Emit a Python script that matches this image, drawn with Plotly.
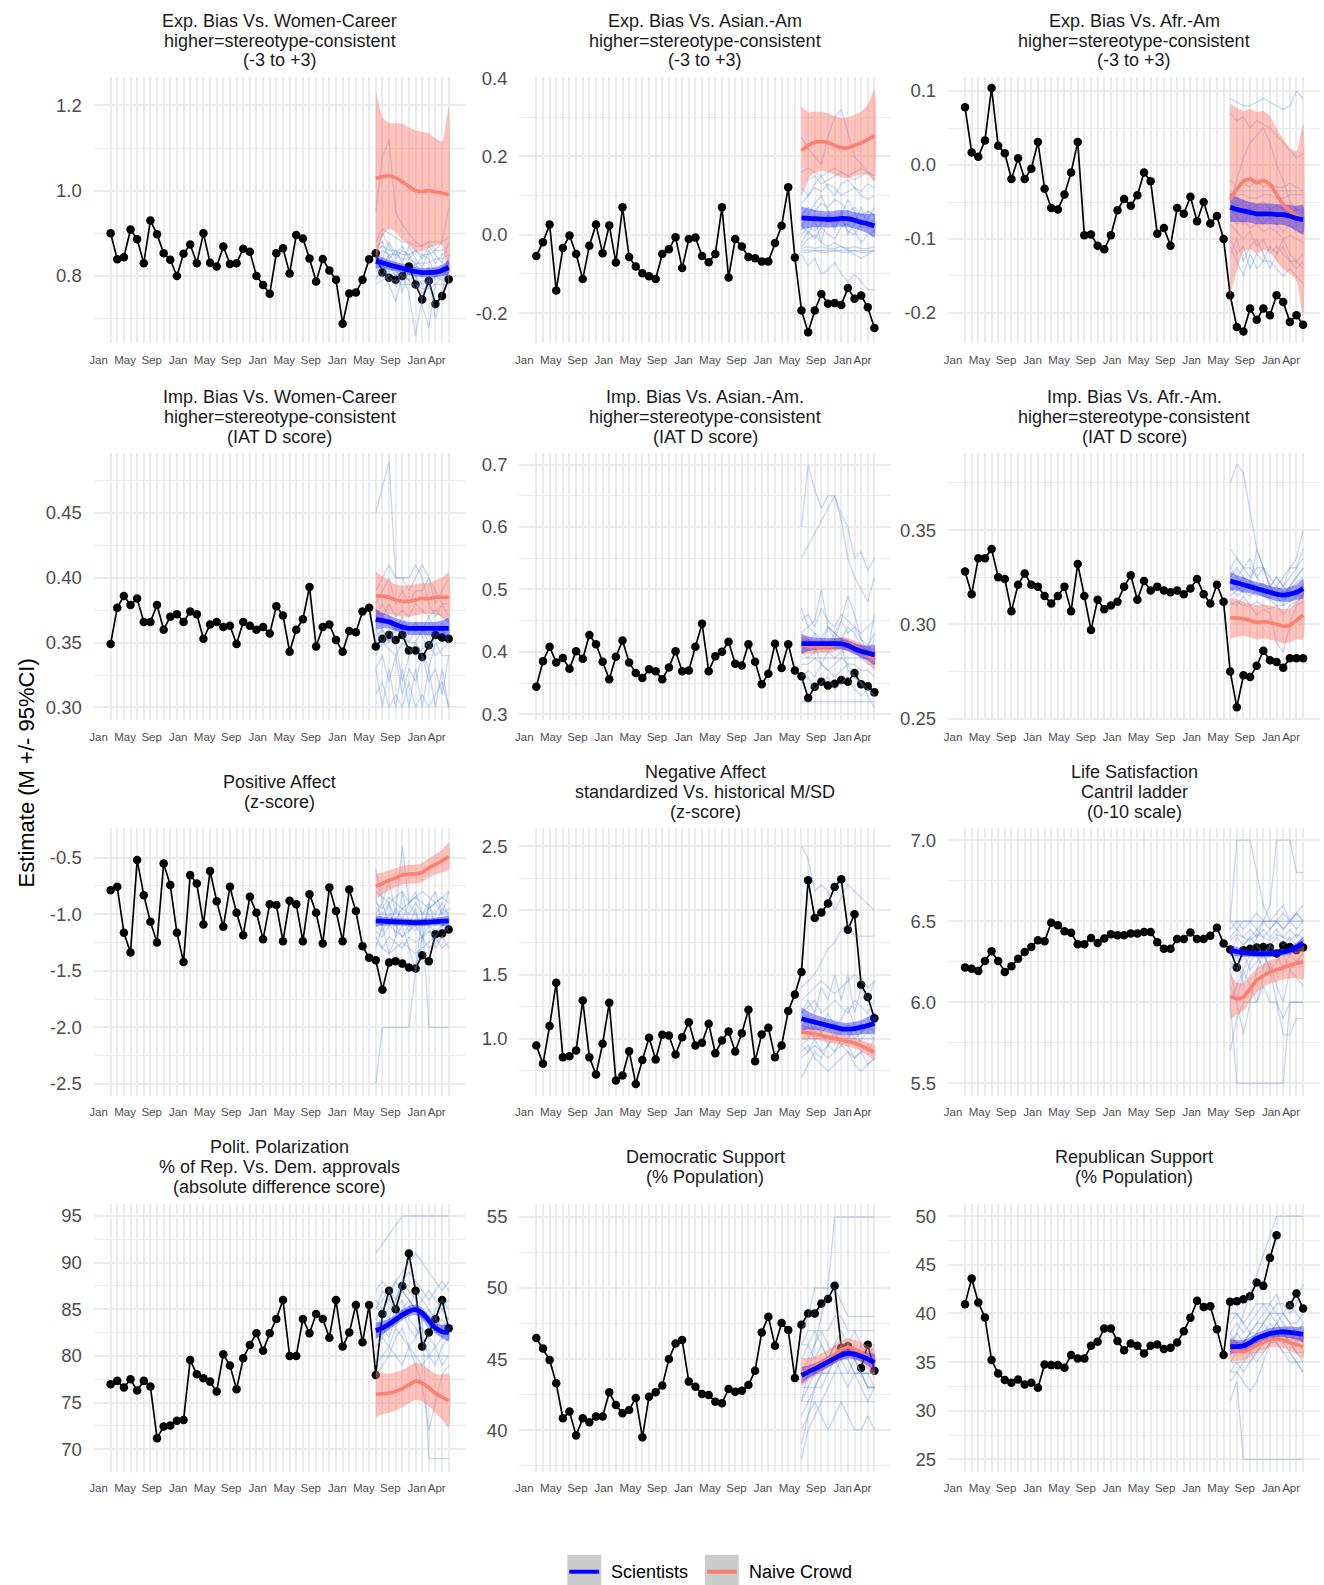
import plotly.graph_objects as go

W, H = 1324, 1585
FONT = "Liberation Sans, Arial, Helvetica, sans-serif"

# ---------------- time axis: monthly, Jan 2017 ... Apr 2021 ----------------
months = list(range(52))
forecast_months = list(range(40, 52))          # May 2020 ... Apr 2021
x_label_pos = [0, 4, 8, 12, 16, 20, 24, 28, 32, 36, 40, 44, 48, 51]
x_label_text = ["Jan", "May", "Sep", "Jan", "May", "Sep", "Jan", "May", "Sep",
                "Jan", "May", "Sep", "Jan", "Apr"]

# ---------------- 1. Exp. Bias Vs. Women-Career ----------------
obs_1 = [0.90, 0.839, 0.844, 0.909, 0.886, 0.83, 0.93, 0.898, 0.853, 0.838, 0.80, 0.852, 0.874,
         0.83, 0.90, 0.831, 0.822, 0.869, 0.828, 0.83, 0.864, 0.857, 0.80, 0.779, 0.758, 0.853,
         0.865, 0.806, 0.896, 0.888, 0.841, 0.787, 0.84, 0.813, 0.791, 0.688, 0.759, 0.761, 0.791,
         0.839, 0.853, 0.808, 0.796, 0.791, 0.80, 0.822, 0.78, 0.745, 0.789, 0.734, 0.753, 0.792]
sci_1 = [0.834, 0.831, 0.826, 0.822, 0.818, 0.814, 0.81, 0.808, 0.808, 0.809, 0.813, 0.82]
sci_ci_1 = [0.016, 0.013, 0.012, 0.011, 0.011, 0.011, 0.011, 0.011, 0.011, 0.012, 0.013, 0.016]
crowd_1 = [1.029, 1.033, 1.035, 1.03, 1.021, 1.01, 1.0, 0.998, 1.0, 0.997, 0.994, 0.99]
crowd_ci_1 = [0.206, 0.14, 0.124, 0.128, 0.136, 0.138, 0.142, 0.14, 0.134, 0.126, 0.121, 0.207]
ind_1 = [
    [0.84, 0.86, 0.85, 0.85, 0.84, 0.84, 0.83, 0.83, 0.83, 0.84, 0.84, 0.85],
    [0.80, 0.80, 0.79, 0.79, 0.78, 0.78, 0.78, 0.77, 0.77, 0.78, 0.78, 0.78],
    [0.88, 0.91, 0.90, 0.89, 0.88, 0.88, 0.87, 0.87, 0.88, 0.88, 0.88, 0.89],
    [0.82, 0.83, 0.78, 0.74, 0.80, 0.76, 0.66, 0.75, 0.80, 0.70, 0.76, 0.85],
    [0.85, 0.90, 0.87, 0.84, 0.86, 0.85, 0.82, 0.85, 0.84, 0.80, 0.82, 0.83],
    [0.78, 0.79, 0.80, 0.81, 0.80, 0.79, 0.80, 0.78, 0.79, 0.80, 0.81, 0.80],
    [0.95, 1.08, 1.12, 0.95, 0.92, 0.90, 0.88, 0.87, 0.88, 0.86, 0.88, 0.96],
    [0.83, 0.82, 0.85, 0.83, 0.76, 0.82, 0.80, 0.73, 0.68, 0.78, 0.80, 0.82],
    [0.86, 0.87, 0.86, 0.86, 0.85, 0.85, 0.86, 0.85, 0.85, 0.86, 0.86, 0.87],
    [0.81, 0.82, 0.81, 0.82, 0.82, 0.81, 0.81, 0.80, 0.81, 0.81, 0.82, 0.82],
    [0.87, 0.88, 0.84, 0.86, 0.83, 0.87, 0.84, 0.82, 0.86, 0.83, 0.85, 0.86],
    [0.79, 0.83, 0.80, 0.78, 0.81, 0.79, 0.77, 0.79, 0.78, 0.80, 0.79, 0.81],
    [0.84, 0.84, 0.88, 0.85, 0.87, 0.84, 0.86, 0.84, 0.87, 0.85, 0.83, 0.88],
    [0.82, 0.80, 0.83, 0.80, 0.82, 0.80, 0.83, 0.80, 0.82, 0.79, 0.81, 0.84],
]

# ---------------- 2. Exp. Bias Vs. Asian.-Am ----------------
obs_2 = [-0.054, -0.019, 0.026, -0.142, -0.034, -0.002, -0.049, -0.113, -0.028, 0.026, -0.047,
         0.024, -0.071, 0.07, -0.057, -0.081, -0.098, -0.106, -0.113, -0.049, -0.037, -0.006,
         -0.085, -0.011, -0.007, -0.054, -0.07, -0.049, 0.07, -0.109, -0.011, -0.03, -0.057,
         -0.06, -0.068, -0.068, -0.021, 0.023, 0.121, -0.058, -0.193, -0.249, -0.193, -0.151,
         -0.176, -0.174, -0.179, -0.136, -0.163, -0.155, -0.185, -0.238]
sci_2 = [0.043, 0.042, 0.041, 0.04, 0.039, 0.04, 0.042, 0.041, 0.037, 0.032, 0.028, 0.023]
sci_ci_2 = [0.03, 0.025, 0.022, 0.021, 0.021, 0.021, 0.021, 0.021, 0.021, 0.022, 0.025, 0.03]
crowd_2 = [0.215, 0.228, 0.236, 0.238, 0.235, 0.228, 0.222, 0.222, 0.228, 0.234, 0.243, 0.253]
crowd_ci_2 = [0.113, 0.085, 0.078, 0.076, 0.075, 0.075, 0.076, 0.077, 0.078, 0.08, 0.09, 0.117]
ind_2 = [
    [0.10, 0.14, 0.15, 0.13, 0.14, 0.15, 0.16, 0.15, 0.14, 0.15, 0.16, 0.14],
    [-0.04, -0.04, -0.04, -0.04, -0.04, -0.04, -0.04, -0.04, -0.04, -0.04, -0.04, -0.04],
    [0.02, 0.05, 0.08, 0.10, 0.06, 0.03, 0.05, 0.09, 0.06, 0.02, 0.04, 0.07],
    [-0.03, -0.01, 0.0, -0.02, -0.03, -0.02, -0.03, -0.04, -0.05, -0.06, -0.05, -0.04],
    [0.25, 0.22, 0.20, 0.18, 0.25, 0.30, 0.32, 0.26, 0.20, 0.18, 0.16, 0.15],
    [-0.05, -0.08, -0.06, -0.10, -0.09, -0.07, -0.10, -0.12, -0.10, -0.12, -0.14, -0.14],
    [0.08, 0.10, 0.12, 0.11, 0.13, 0.12, 0.10, 0.11, 0.12, 0.10, 0.09, 0.10],
    [0.0, 0.02, 0.01, 0.03, 0.05, 0.02, 0.04, 0.01, 0.00, 0.03, 0.06, 0.05],
    [-0.035, -0.03, -0.035, -0.03, -0.035, -0.035, -0.03, -0.035, -0.03, -0.035, -0.035, -0.03],
    [0.05, 0.07, 0.06, 0.08, 0.07, 0.09, 0.08, 0.06, 0.07, 0.05, 0.06, 0.05],
    [0.12, 0.10, 0.13, 0.15, 0.12, 0.10, 0.13, 0.14, 0.12, 0.11, 0.13, 0.12],
    [-0.02, 0.01, -0.01, 0.02, 0.0, -0.01, 0.02, 0.03, 0.01, -0.02, 0.0, 0.01],
    [0.16, 0.17, 0.16, 0.15, 0.16, 0.17, 0.16, 0.15, 0.16, 0.17, 0.16, 0.15],
    [-0.045, -0.045, -0.04, -0.045, -0.045, -0.04, -0.045, -0.045, -0.04, -0.045, -0.045, -0.04],
    [0.03, 0.0, 0.04, -0.02, 0.05, 0.01, 0.06, 0.0, 0.03, 0.07, 0.02, 0.04],
]

# ---------------- 3. Exp. Bias Vs. Afr.-Am ----------------
obs_3 = [0.078, 0.017, 0.011, 0.033, 0.104, 0.026, 0.016, -0.019, 0.009, -0.019, -0.005, 0.031,
         -0.032, -0.058, -0.06, -0.04, -0.01, 0.031, -0.095, -0.094, -0.109, -0.114, -0.095,
         -0.061, -0.046, -0.055, -0.041, -0.01, -0.022, -0.093, -0.085, -0.109, -0.058, -0.066,
         -0.043, -0.076, -0.05, -0.079, -0.069, -0.1, -0.176, -0.219, -0.225, -0.194, -0.209,
         -0.194, -0.203, -0.176, -0.185, -0.212, -0.203, -0.216]
sci_3 = [-0.057, -0.06, -0.062, -0.064, -0.066, -0.066, -0.066, -0.067, -0.067, -0.069, -0.072, -0.074]
sci_ci_3 = [0.02, 0.017, 0.015, 0.014, 0.014, 0.014, 0.014, 0.014, 0.014, 0.015, 0.017, 0.02]
crowd_3 = [-0.047, -0.033, -0.022, -0.019, -0.024, -0.021, -0.026, -0.04, -0.053, -0.062, -0.069, -0.075]
crowd_ci_3 = [0.13, 0.11, 0.095, 0.095, 0.096, 0.094, 0.092, 0.09, 0.088, 0.085, 0.088, 0.13]
ind_3 = [
    [0.09, 0.085, 0.08, 0.08, 0.085, 0.09, 0.085, 0.08, 0.075, 0.08, 0.10, 0.09],
    [-0.11, -0.13, -0.15, -0.12, -0.14, -0.13, -0.13, -0.14, -0.15, -0.14, -0.15, -0.16],
    [-0.035, -0.035, -0.035, -0.035, -0.035, -0.035, -0.035, -0.035, -0.035, -0.035, -0.035, -0.035],
    [-0.04, -0.04, -0.04, -0.045, -0.045, -0.04, -0.04, -0.045, -0.045, -0.04, -0.04, -0.04],
    [-0.05, -0.02, 0.01, 0.03, 0.04, 0.05, 0.03, 0.0, -0.02, -0.05, -0.06, -0.06],
    [-0.08, -0.09, -0.10, -0.09, -0.11, -0.10, -0.12, -0.11, -0.12, -0.13, -0.13, -0.14],
    [-0.10, -0.12, -0.11, -0.14, -0.12, -0.13, -0.11, -0.12, -0.10, -0.12, -0.13, -0.12],
    [-0.06, -0.07, -0.08, -0.06, -0.07, -0.08, -0.07, -0.08, -0.09, -0.08, -0.09, -0.09],
    [-0.02, -0.03, -0.025, -0.03, -0.02, -0.03, -0.025, -0.03, -0.03, -0.025, -0.03, -0.035],
    [-0.07, -0.08, -0.075, -0.085, -0.08, -0.09, -0.085, -0.09, -0.1, -0.095, -0.1, -0.105],
    [-0.12, -0.1, -0.13, -0.11, -0.1, -0.12, -0.14, -0.12, -0.11, -0.13, -0.14, -0.13],
    [-0.05, -0.055, -0.05, -0.06, -0.055, -0.05, -0.06, -0.055, -0.06, -0.065, -0.06, -0.065],
    [0.07, 0.06, 0.065, 0.05, 0.06, 0.055, 0.05, 0.04, 0.03, 0.02, 0.01, 0.015],
]

# ---------------- 4. Imp. Bias Vs. Women-Career ----------------
obs_4 = [0.349, 0.377, 0.386, 0.379, 0.384, 0.366, 0.366, 0.379, 0.36, 0.37, 0.372, 0.366, 0.374,
         0.372, 0.353, 0.364, 0.366, 0.362, 0.363, 0.349, 0.366, 0.363, 0.36, 0.362, 0.357, 0.378,
         0.371, 0.343, 0.36, 0.368, 0.393, 0.347, 0.362, 0.364, 0.352, 0.343, 0.359, 0.358, 0.374,
         0.377, 0.347, 0.353, 0.356, 0.352, 0.356, 0.344, 0.344, 0.339, 0.348, 0.356, 0.354, 0.353]
sci_4 = [0.368, 0.367, 0.366, 0.364, 0.362, 0.361, 0.361, 0.361, 0.361, 0.361, 0.361, 0.361]
sci_ci_4 = [0.008, 0.006, 0.005, 0.005, 0.005, 0.005, 0.005, 0.005, 0.005, 0.005, 0.006, 0.008]
crowd_4 = [0.386, 0.386, 0.385, 0.383, 0.382, 0.382, 0.383, 0.384, 0.384, 0.385, 0.385, 0.385]
crowd_ci_4 = [0.019, 0.015, 0.013, 0.012, 0.012, 0.012, 0.012, 0.012, 0.012, 0.013, 0.015, 0.019]
ind_4 = [
    [0.45, 0.47, 0.49, 0.40, 0.40, 0.40, 0.41, 0.40, 0.38, 0.37, 0.38, 0.38],
    [0.37, 0.38, 0.37, 0.36, 0.37, 0.36, 0.36, 0.36, 0.37, 0.36, 0.36, 0.36],
    [0.33, 0.30, 0.33, 0.30, 0.33, 0.30, 0.33, 0.30, 0.33, 0.30, 0.33, 0.30],
    [0.36, 0.35, 0.36, 0.35, 0.32, 0.34, 0.35, 0.34, 0.33, 0.35, 0.34, 0.34],
    [0.38, 0.39, 0.40, 0.38, 0.39, 0.38, 0.39, 0.39, 0.40, 0.38, 0.39, 0.40],
    [0.35, 0.36, 0.35, 0.36, 0.36, 0.35, 0.35, 0.36, 0.35, 0.36, 0.36, 0.35],
    [0.31, 0.32, 0.30, 0.31, 0.30, 0.32, 0.30, 0.31, 0.30, 0.31, 0.32, 0.30],
    [0.39, 0.40, 0.41, 0.40, 0.40, 0.39, 0.40, 0.41, 0.40, 0.39, 0.38, 0.37],
    [0.365, 0.37, 0.365, 0.36, 0.365, 0.36, 0.365, 0.36, 0.355, 0.36, 0.365, 0.36],
    [0.34, 0.35, 0.345, 0.34, 0.35, 0.345, 0.34, 0.345, 0.35, 0.34, 0.345, 0.35],
    [0.375, 0.37, 0.38, 0.37, 0.375, 0.37, 0.38, 0.375, 0.37, 0.375, 0.37, 0.365],
    [0.355, 0.36, 0.35, 0.365, 0.355, 0.35, 0.36, 0.355, 0.345, 0.355, 0.36, 0.355],
    [0.33, 0.34, 0.32, 0.34, 0.31, 0.33, 0.32, 0.34, 0.32, 0.33, 0.31, 0.34],
]

# ---------------- 5. Imp. Bias Vs. Asian.-Am. ----------------
obs_5 = [0.344, 0.385, 0.408, 0.383, 0.39, 0.373, 0.401, 0.389, 0.427, 0.412, 0.384, 0.356, 0.392,
         0.418, 0.383, 0.366, 0.358, 0.372, 0.369, 0.356, 0.375, 0.401, 0.369, 0.37, 0.408, 0.445,
         0.369, 0.393, 0.4, 0.416, 0.381, 0.378, 0.412, 0.384, 0.348, 0.365, 0.413, 0.374, 0.412,
         0.37, 0.361, 0.326, 0.344, 0.352, 0.346, 0.349, 0.355, 0.352, 0.366, 0.348, 0.345, 0.335]
sci_5 = [0.413, 0.413, 0.413, 0.413, 0.413, 0.413, 0.413, 0.41, 0.405, 0.401, 0.398, 0.395]
sci_ci_5 = [0.016, 0.012, 0.01, 0.009, 0.009, 0.009, 0.009, 0.009, 0.009, 0.01, 0.012, 0.016]
crowd_5 = [0.411, 0.409, 0.408, 0.408, 0.408, 0.411, 0.414, 0.412, 0.408, 0.402, 0.395, 0.387]
crowd_ci_5 = [0.015, 0.012, 0.011, 0.01, 0.01, 0.01, 0.01, 0.01, 0.01, 0.011, 0.013, 0.017]
ind_5 = [
    [0.60, 0.70, 0.66, 0.63, 0.65, 0.65, 0.62, 0.60, 0.55, 0.56, 0.53, 0.55],
    [0.55, 0.57, 0.59, 0.61, 0.63, 0.65, 0.61, 0.55, 0.52, 0.50, 0.48, 0.52],
    [0.47, 0.44, 0.45, 0.50, 0.44, 0.43, 0.45, 0.49, 0.46, 0.42, 0.40, 0.46],
    [0.39, 0.39, 0.39, 0.39, 0.39, 0.39, 0.39, 0.39, 0.39, 0.39, 0.39, 0.39],
    [0.32, 0.32, 0.32, 0.32, 0.32, 0.32, 0.32, 0.32, 0.32, 0.32, 0.32, 0.32],
    [0.40, 0.42, 0.41, 0.38, 0.40, 0.42, 0.41, 0.37, 0.36, 0.35, 0.33, 0.31],
    [0.43, 0.44, 0.43, 0.42, 0.44, 0.43, 0.42, 0.44, 0.43, 0.41, 0.40, 0.42],
    [0.36, 0.37, 0.36, 0.38, 0.37, 0.36, 0.37, 0.38, 0.36, 0.35, 0.34, 0.33],
    [0.41, 0.42, 0.40, 0.42, 0.41, 0.43, 0.42, 0.41, 0.40, 0.41, 0.40, 0.39],
    [0.38, 0.38, 0.39, 0.38, 0.37, 0.38, 0.39, 0.38, 0.38, 0.37, 0.37, 0.36],
    [0.45, 0.46, 0.44, 0.47, 0.45, 0.44, 0.46, 0.45, 0.44, 0.43, 0.44, 0.45],
    [0.40, 0.39, 0.40, 0.41, 0.40, 0.39, 0.40, 0.41, 0.40, 0.39, 0.38, 0.38],
    [0.35, 0.36, 0.34, 0.35, 0.36, 0.34, 0.35, 0.36, 0.34, 0.33, 0.34, 0.33],
    [0.42, 0.41, 0.43, 0.40, 0.44, 0.42, 0.45, 0.43, 0.44, 0.42, 0.41, 0.43],
]

# ---------------- 6. Imp. Bias Vs. Afr.-Am. ----------------
obs_6 = [0.328, 0.316, 0.335, 0.335, 0.34, 0.325, 0.324, 0.307, 0.321, 0.327, 0.321, 0.32, 0.315,
         0.311, 0.315, 0.32, 0.307, 0.332, 0.315, 0.297, 0.313, 0.308, 0.31, 0.312, 0.32, 0.326,
         0.313, 0.323, 0.318, 0.32, 0.318, 0.317, 0.318, 0.316, 0.319, 0.324, 0.316, 0.311, 0.321,
         0.312, 0.275, 0.256, 0.273, 0.272, 0.278, 0.286, 0.281, 0.28, 0.277, 0.282, 0.282, 0.282]
sci_6 = [0.323, 0.322, 0.321, 0.32, 0.319, 0.318, 0.317, 0.316, 0.3155, 0.316, 0.317, 0.319]
sci_ci_6 = [0.005, 0.004, 0.004, 0.0035, 0.0035, 0.0035, 0.0035, 0.0035, 0.0035, 0.004, 0.004, 0.005]
crowd_6 = [0.3035, 0.3033, 0.303, 0.302, 0.301, 0.3015, 0.301, 0.3, 0.299, 0.2995, 0.302, 0.305]
crowd_ci_6 = [0.011, 0.01, 0.009, 0.009, 0.009, 0.009, 0.009, 0.009, 0.009, 0.009, 0.01, 0.013]
ind_6 = [
    [0.375, 0.385, 0.38, 0.36, 0.34, 0.33, 0.32, 0.325, 0.32, 0.33, 0.335, 0.35],
    [0.33, 0.335, 0.33, 0.325, 0.33, 0.33, 0.325, 0.32, 0.325, 0.33, 0.33, 0.34],
    [0.32, 0.315, 0.318, 0.32, 0.317, 0.315, 0.313, 0.31, 0.31, 0.312, 0.315, 0.318],
    [0.325, 0.33, 0.325, 0.32, 0.34, 0.33, 0.32, 0.315, 0.31, 0.32, 0.325, 0.33],
    [0.31, 0.312, 0.31, 0.31, 0.305, 0.308, 0.306, 0.29, 0.285, 0.30, 0.31, 0.312],
    [0.322, 0.32, 0.325, 0.323, 0.32, 0.322, 0.318, 0.32, 0.317, 0.318, 0.322, 0.325],
    [0.315, 0.318, 0.32, 0.322, 0.318, 0.316, 0.314, 0.318, 0.32, 0.316, 0.318, 0.32],
    [0.33, 0.325, 0.33, 0.335, 0.325, 0.33, 0.32, 0.325, 0.32, 0.325, 0.33, 0.335],
    [0.318, 0.32, 0.317, 0.315, 0.318, 0.316, 0.314, 0.312, 0.313, 0.315, 0.318, 0.32],
    [0.34, 0.335, 0.33, 0.33, 0.325, 0.32, 0.32, 0.315, 0.315, 0.32, 0.325, 0.33],
    [0.312, 0.31, 0.315, 0.31, 0.312, 0.31, 0.308, 0.31, 0.305, 0.31, 0.312, 0.315],
]

# ---------------- 7. Positive Affect ----------------
obs_7 = [-0.788, -0.758, -1.165, -1.339, -0.522, -0.832, -1.068, -1.251, -0.552, -0.743, -1.165,
         -1.422, -0.655, -0.729, -1.091, -0.619, -0.885, -1.112, -0.758, -0.988, -1.186, -0.847,
         -0.988, -1.221, -0.912, -0.92, -1.239, -0.882, -0.912, -1.239, -0.823, -0.988, -1.26,
         -0.764, -0.971, -1.239, -0.782, -0.973, -1.283, -1.386, -1.407, -1.667, -1.428, -1.416,
         -1.437, -1.472, -1.481, -1.363, -1.416, -1.177, -1.171, -1.136]
sci_7 = [-1.06, -1.062, -1.065, -1.068, -1.07, -1.072, -1.074, -1.073, -1.07, -1.066, -1.062, -1.06]
sci_ci_7 = [0.05, 0.04, 0.035, 0.033, 0.032, 0.032, 0.032, 0.032, 0.033, 0.035, 0.04, 0.05]
crowd_7 = [-0.752, -0.73, -0.70, -0.68, -0.655, -0.646, -0.645, -0.63, -0.59, -0.56, -0.53, -0.49]
crowd_ci_7 = [0.11, 0.095, 0.088, 0.085, 0.083, 0.083, 0.083, 0.083, 0.085, 0.09, 0.1, 0.12]
ind_7 = [
    [-2.5, -2.0, -2.0, -2.0, -2.0, -2.0, -1.5, -1.0, -2.0, -2.0, -2.0, -2.0],
    [-0.6, -0.9, -0.7, -1.0, -0.4, -0.9, -0.8, -1.0, -0.9, -0.8, -1.0, -0.8],
    [-1.0, -1.0, -1.0, -1.0, -1.0, -1.0, -1.0, -1.0, -1.0, -1.0, -1.0, -1.0],
    [-1.2, -1.3, -1.2, -1.25, -1.3, -1.2, -1.25, -1.2, -1.3, -1.25, -1.2, -1.1],
    [-0.9, -0.95, -0.85, -0.9, -0.95, -0.9, -0.85, -0.9, -0.95, -0.9, -0.85, -0.9],
    [-1.1, -1.15, -1.05, -1.1, -1.2, -1.1, -1.15, -1.05, -1.1, -1.15, -1.1, -1.05],
    [-1.3, -1.1, -1.35, -1.2, -1.1, -1.3, -1.5, -1.2, -1.1, -1.3, -1.2, -1.3],
    [-0.85, -1.1, -0.9, -1.2, -0.8, -1.1, -0.95, -1.25, -0.9, -1.1, -0.95, -1.0],
    [-0.95, -1.0, -0.9, -1.05, -0.95, -1.0, -0.9, -1.0, -0.95, -0.9, -1.0, -0.95],
    [-1.15, -1.2, -1.1, -1.15, -1.2, -1.15, -1.1, -1.2, -1.15, -1.2, -1.1, -1.15],
    [-1.05, -1.1, -1.0, -1.1, -1.05, -1.15, -1.05, -1.1, -1.0, -1.05, -1.1, -1.05],
    [-0.8, -0.85, -0.9, -0.85, -0.8, -0.9, -0.85, -0.8, -0.85, -0.9, -0.85, -0.8],
    [-1.25, -1.3, -1.35, -1.3, -1.25, -1.3, -1.35, -1.3, -1.25, -1.2, -1.3, -1.25],
    [-1.0, -0.9, -1.1, -0.95, -1.05, -0.9, -1.0, -1.1, -0.95, -1.0, -0.9, -1.0],
]

# ---------------- 8. Negative Affect ----------------
obs_8 = [0.948, 0.805, 1.099, 1.437, 0.857, 0.865, 0.909, 1.299, 0.857, 0.722, 0.961, 1.281,
         0.675, 0.714, 0.904, 0.649, 0.836, 1.008, 0.839, 1.031, 1.026, 0.878, 1.013, 1.13, 0.948,
         0.969, 1.117, 0.888, 0.987, 1.057, 0.901, 1.044, 1.226, 0.826, 1.034, 1.086, 0.857,
         0.948, 1.216, 1.346, 1.52, 2.235, 1.941, 1.983, 2.053, 2.183, 2.243, 1.85, 1.97, 1.421,
         1.325, 1.161]
sci_8 = [1.156, 1.143, 1.13, 1.117, 1.104, 1.091, 1.078, 1.076, 1.08, 1.091, 1.104, 1.122]
sci_ci_8 = [0.09, 0.07, 0.06, 0.055, 0.052, 0.05, 0.05, 0.05, 0.052, 0.055, 0.065, 0.085]
crowd_8 = [1.052, 1.046, 1.039, 1.026, 1.013, 1.003, 0.992, 0.979, 0.966, 0.945, 0.92, 0.896]
crowd_ci_8 = [0.06, 0.05, 0.045, 0.042, 0.04, 0.04, 0.04, 0.04, 0.042, 0.045, 0.05, 0.06]
ind_8 = [
    [2.5, 2.4, 2.15, 2.2, 2.15, 2.0, 2.1, 2.2, 2.15, 2.1, 2.05, 2.0],
    [1.4, 1.45, 1.5, 1.6, 1.7, 1.75, 1.85, 1.9, 1.8, 1.8, 1.8, 1.8],
    [0.7, 0.8, 0.9, 0.85, 0.95, 0.9, 1.0, 0.95, 0.85, 0.9, 0.8, 0.85],
    [1.2, 1.3, 1.2, 1.4, 1.3, 1.5, 1.3, 1.5, 1.2, 1.4, 1.3, 1.45],
    [1.0, 1.0, 1.0, 1.0, 1.0, 1.0, 1.0, 1.0, 1.0, 1.0, 1.0, 1.0],
    [0.9, 0.95, 0.85, 0.8, 0.75, 0.8, 0.85, 0.9, 0.8, 0.75, 0.8, 0.85],
    [1.1, 1.15, 1.05, 1.1, 1.2, 1.1, 1.15, 1.25, 1.1, 1.05, 1.1, 1.15],
    [0.95, 0.9, 1.0, 0.9, 0.95, 1.05, 0.95, 1.0, 1.1, 0.95, 0.9, 1.0],
    [1.2, 1.25, 1.3, 1.2, 1.25, 1.3, 1.25, 1.2, 1.3, 1.25, 1.2, 1.3],
    [0.85, 0.9, 0.95, 0.9, 0.85, 0.9, 0.95, 0.9, 0.85, 0.9, 0.95, 0.9],
    [1.05, 1.1, 1.0, 1.05, 1.1, 1.0, 1.05, 1.1, 1.0, 1.05, 1.1, 1.05],
    [1.3, 1.35, 1.4, 1.45, 1.4, 1.35, 1.4, 1.45, 1.5, 1.45, 1.4, 1.45],
    [0.95, 1.0, 1.1, 1.05, 0.95, 1.0, 1.1, 1.05, 0.95, 1.0, 1.05, 1.0],
]

# ---------------- 9. Life Satisfaction ----------------
obs_9 = [6.214, 6.207, 6.193, 6.255, 6.315, 6.255, 6.187, 6.222, 6.269, 6.31, 6.341, 6.383, 6.376,
         6.49, 6.475, 6.438, 6.428, 6.358, 6.358, 6.397, 6.366, 6.393, 6.42, 6.413, 6.413, 6.424,
         6.424, 6.434, 6.434, 6.37, 6.33, 6.33, 6.39, 6.39, 6.43, 6.39, 6.39, 6.41, 6.46, 6.362,
         6.325, 6.214, 6.32, 6.33, 6.337, 6.34, 6.337, 6.3, 6.35, 6.34, 6.32, 6.337]
sci_9 = [6.32, 6.312, 6.304, 6.302, 6.3, 6.3, 6.3, 6.302, 6.31, 6.32, 6.34, 6.366]
sci_ci_9 = [0.035, 0.028, 0.024, 0.022, 0.022, 0.022, 0.022, 0.022, 0.022, 0.024, 0.028, 0.035]
crowd_9 = [6.038, 6.022, 6.032, 6.084, 6.135, 6.163, 6.187, 6.2, 6.214, 6.228, 6.24, 6.249]
crowd_ci_9 = [0.14, 0.1, 0.085, 0.08, 0.075, 0.072, 0.072, 0.072, 0.075, 0.08, 0.09, 0.11]
ind_9 = [
    [6.5, 7.0, 7.0, 7.0, 6.8, 6.6, 6.5, 6.5, 6.55, 6.5, 6.55, 6.5],
    [5.7, 5.9, 6.0, 6.0, 6.0, 6.1, 6.0, 6.0, 5.9, 6.0, 6.0, 6.0],
    [6.5, 6.5, 6.5, 6.5, 6.5, 6.5, 6.5, 6.5, 6.5, 6.5, 6.5, 6.5],
    [6.0, 5.5, 5.5, 5.5, 5.5, 5.5, 5.5, 5.5, 5.5, 6.0, 6.0, 6.0],
    [6.3, 6.4, 6.35, 6.4, 6.45, 6.4, 6.45, 6.5, 6.45, 6.5, 6.55, 6.6],
    [6.4, 6.45, 6.4, 6.45, 6.4, 6.45, 6.4, 6.45, 6.4, 6.45, 6.4, 6.45],
    [6.2, 6.3, 6.1, 6.25, 6.3, 6.2, 6.35, 6.3, 6.2, 6.3, 6.25, 6.3],
    [6.0, 6.1, 6.2, 6.3, 6.4, 6.5, 6.6, 7.0, 7.0, 7.0, 6.8, 6.8],
    [6.2, 6.0, 5.8, 6.0, 6.2, 6.3, 6.2, 6.0, 5.8, 5.8, 5.9, 5.9],
    [6.45, 6.5, 6.45, 6.5, 6.45, 6.5, 6.45, 6.5, 6.45, 6.5, 6.45, 6.5],
    [6.35, 6.3, 6.35, 6.4, 6.35, 6.3, 6.35, 6.4, 6.35, 6.4, 6.35, 6.4],
    [6.25, 6.2, 6.3, 6.2, 6.25, 6.3, 6.2, 6.25, 6.3, 6.2, 6.25, 6.3],
    [6.1, 6.0, 6.2, 6.1, 6.0, 6.15, 6.25, 6.1, 6.0, 6.2, 6.15, 6.1],
    [6.5, 6.45, 6.5, 6.5, 6.55, 6.5, 6.5, 6.55, 6.6, 6.5, 6.55, 6.5],
    [6.38, 6.42, 6.4, 6.38, 6.42, 6.4, 6.38, 6.42, 6.4, 6.38, 6.42, 6.4],
]

# ---------------- 10. Polit. Polarization ----------------
obs_10 = [76.97, 77.33, 76.61, 77.5, 76.29, 77.33, 76.72, 71.19, 72.44, 72.55, 73.05, 73.15, 79.57,
          78.04, 77.61, 77.25, 76.18, 80.18, 78.97, 76.43, 79.75, 81.18, 82.43, 80.57, 82.43,
          83.96, 85.99, 80.0, 80.0, 83.96, 82.43, 84.49, 83.96, 81.96, 85.99, 81.0, 82.5, 85.46,
          81.46, 85.46, 77.97, 84.49, 86.99, 85.0, 87.49, 90.98, 86.99, 81.0, 82.5, 83.96, 85.99,
          82.96]
sci_10 = [82.7, 83.0, 83.4, 83.9, 84.4, 84.8, 84.95, 84.6, 83.8, 83.0, 82.6, 82.5]
sci_ci_10 = [0.9, 0.7, 0.6, 0.55, 0.55, 0.55, 0.55, 0.55, 0.55, 0.6, 0.7, 0.9]
crowd_10 = [75.9, 75.95, 76.0, 76.2, 76.5, 76.9, 77.3, 77.1, 76.6, 76.0, 75.6, 75.2]
crowd_ci_10 = [2.5, 2.2, 2.1, 2.05, 2.0, 2.0, 2.0, 2.0, 2.0, 2.1, 2.4, 2.9]
ind_10 = [
    [91, 92, 93, 94, 95, 95, 95, 95, 95, 95, 95, 95],
    [85, 86, 87, 88, 89, 90, 91, 90, 89, 88, 87, 88],
    [80, 80, 80, 80, 80, 80, 80, 80, 80, 80, 80, 80],
    [82, 84, 83, 85, 86, 84, 83, 82, 80, 79, 81, 82],
    [78, 79, 80, 82, 83, 81, 79, 77, 72, 75, 78, 79],
    [86, 85, 84, 86, 88, 87, 86, 84, 83, 85, 86, 85],
    [83, 82, 84, 83, 85, 86, 85, 84, 69, 69, 69, 69],
    [84, 85, 86, 85, 84, 85, 87, 86, 85, 84, 83, 84],
    [83, 84, 85, 86, 87, 86, 85, 84, 83, 84, 85, 84],
    [81, 82, 81, 83, 82, 81, 82, 83, 82, 81, 82, 83],
    [87, 88, 87, 86, 88, 89, 88, 87, 86, 87, 88, 87],
    [79, 80, 81, 80, 79, 81, 80, 79, 80, 81, 79, 80],
    [84, 83, 82, 84, 85, 83, 82, 84, 85, 83, 84, 82],
    [85, 87, 86, 88, 87, 86, 85, 86, 87, 86, 85, 86],
]

# ---------------- 11. Democratic Support ----------------
obs_11 = [46.48, 45.75, 44.93, 43.29, 40.83, 41.3, 39.61, 40.83, 40.55, 40.95, 40.95, 42.66, 41.77,
          41.18, 41.41, 42.26, 39.49, 42.35, 42.66, 43.13, 45.0, 46.1, 46.34, 43.41, 43.05, 42.54,
          42.47, 42.0, 41.88, 42.89, 42.7, 42.77, 43.17, 44.18, 46.87, 47.98, 45.94, 47.53, 47.04,
          43.66, 47.41, 48.21, 48.21, 48.91, 49.22, 50.16, 45.8, 45.9, None, 44.37, 46.0, 44.18]
sci_11 = [43.85, 44.1, 44.3, 44.55, 44.8, 45.05, 45.3, 45.4, 45.35, 45.2, 45.0, 44.75]
sci_ci_11 = [0.6, 0.45, 0.4, 0.38, 0.37, 0.37, 0.37, 0.37, 0.38, 0.4, 0.45, 0.6]
crowd_11 = [44.06, 44.27, 44.48, 44.74, 45.0, 45.33, 45.66, 45.82, 45.7, 45.47, 45.1, 44.72]
crowd_ci_11 = [1.0, 0.8, 0.7, 0.65, 0.65, 0.65, 0.65, 0.65, 0.65, 0.7, 0.8, 1.0]
ind_11 = [
    [42, 44, 46, 48, 50, 55, 55, 55, 55, 55, 55, 55],
    [47, 48, 50, 50, 50, 50, 49, 48, 48, 48, 48, 48],
    [39, 41, 43, 44, 45, 46, 47, 46, 45, 44, 43, 43],
    [42, 42, 42, 42, 42, 42, 42, 42, 42, 42, 42, 42],
    [44, 45, 46, 47, 46, 45, 44, 43, 44, 43, 42, 43],
    [38, 40, 41, 42, 43, 44, 45, 46, 47, 47, 47, 47],
    [46, 47, 47, 46, 45, 46, 45, 44, 45, 44, 44, 44],
    [40, 41, 42, 41, 40, 41, 42, 41, 40, 40, 41, 40],
    [45, 46, 45, 46, 45, 46, 45, 46, 45, 46, 45, 46],
    [43, 43, 44, 44, 45, 45, 46, 45, 44, 44, 43, 43],
    [46, 46, 47, 47, 47, 48, 48, 47, 47, 46, 46, 46],
    [42, 43, 43, 44, 44, 45, 45, 45, 44, 44, 43, 43],
    [44, 44, 44, 44, 44, 44, 44, 44, 44, 44, 44, 44],
    [41, 42, 43, 43, 44, 45, 46, 46, 45, 44, 44, 43],
]

# ---------------- 12. Republican Support ----------------
obs_12 = [40.96, 43.6, 41.13, 39.59, 35.21, 33.84, 33.15, 32.88, 33.22, 32.71, 32.88, 32.36, 34.76,
          34.69, 34.69, 34.42, 35.72, 35.38, 35.38, 36.68, 37.09, 38.46, 38.46, 37.16, 36.23, 36.92,
          36.68, 35.89, 36.68, 36.82, 36.34, 36.47, 37.02, 38.18, 39.55, 41.3, 40.68, 40.75, 38.39,
          35.72, 41.2, 41.27, 41.47, 41.78, 43.18, 42.84, 45.72, 48.05, None, 40.86, 42.05, 40.51]
sci_12 = [36.58, 36.6, 36.68, 37.0, 37.43, 37.7, 37.95, 38.05, 38.12, 38.05, 37.95, 37.88]
sci_ci_12 = [0.8, 0.65, 0.6, 0.55, 0.55, 0.55, 0.55, 0.55, 0.55, 0.6, 0.65, 0.8]
crowd_12 = [36.34, 36.15, 36.06, 36.35, 36.75, 37.05, 37.33, 37.35, 37.26, 37.0, 36.8, 36.58]
crowd_ci_12 = [1.3, 1.0, 0.9, 0.85, 0.8, 0.8, 0.8, 0.8, 0.8, 0.85, 0.95, 1.2]
ind_12 = [
    [31, 33, 25, 25, 25, 25, 25, 25, 25, 25, 25, 25],
    [36, 38, 40, 42, 44, 46, 48, 50, 50, 50, 50, 50],
    [34, 34, 33, 32, 33, 35, 37, 38, 38, 37, 36, 35],
    [38, 37, 36, 37, 38, 39, 40, 41, 41, 40, 41, 43],
    [35, 36, 37, 36, 35, 36, 37, 38, 37, 36, 35, 34],
    [37, 38, 37, 38, 37, 38, 39, 38, 37, 38, 37, 38],
    [33, 34, 35, 35, 36, 37, 38, 39, 38, 37, 36, 36],
    [39, 40, 39, 38, 39, 40, 41, 42, 40, 39, 38, 39],
    [36, 37, 37, 38, 38, 39, 40, 40, 39, 38, 38, 37],
    [34, 35, 35, 36, 36, 37, 38, 37, 36, 36, 35, 35],
    [38, 39, 38, 39, 40, 41, 41, 40, 40, 39, 39, 40],
    [35, 35, 34, 35, 36, 36, 37, 37, 36, 35, 35, 34],
    [37, 36, 37, 38, 39, 39, 38, 39, 38, 37, 38, 37],
    [40, 40, 39, 40, 41, 41, 40, 39, 40, 41, 40, 39],
]

# ---------------- titles, y ticks ----------------
titles = [
    ["Exp. Bias Vs. Women-Career", "higher=stereotype-consistent", "(-3 to +3)"],
    ["Exp. Bias Vs. Asian.-Am", "higher=stereotype-consistent", "(-3 to +3)"],
    ["Exp. Bias Vs. Afr.-Am", "higher=stereotype-consistent", "(-3 to +3)"],
    ["Imp. Bias Vs. Women-Career", "higher=stereotype-consistent", "(IAT D score)"],
    ["Imp. Bias Vs. Asian.-Am.", "higher=stereotype-consistent", "(IAT D score)"],
    ["Imp. Bias Vs. Afr.-Am.", "higher=stereotype-consistent", "(IAT D score)"],
    ["Positive Affect", "(z-score)"],
    ["Negative Affect", "standardized Vs. historical M/SD", "(z-score)"],
    ["Life Satisfaction", "Cantril ladder", "(0-10 scale)"],
    ["Polit. Polarization", "% of Rep. Vs. Dem. approvals", "(absolute difference score)"],
    ["Democratic Support", "(% Population)"],
    ["Republican Support", "(% Population)"],
]
y_ticks = [
    [0.8, 1.0, 1.2], [-0.2, 0.0, 0.2, 0.4], [-0.2, -0.1, 0.0, 0.1],
    [0.30, 0.35, 0.40, 0.45], [0.3, 0.4, 0.5, 0.6, 0.7], [0.25, 0.30, 0.35],
    [-2.5, -2.0, -1.5, -1.0, -0.5], [1.0, 1.5, 2.0, 2.5], [5.5, 6.0, 6.5, 7.0],
    [70, 75, 80, 85, 90, 95], [40, 45, 50, 55], [25, 30, 35, 40, 45, 50],
]
y_decimals = [1, 1, 1, 2, 1, 2, 1, 1, 1, 0, 0, 0]
y_ranges = [
    [0.642, 1.266], [-0.277, 0.402], [-0.241, 0.1186],
    [0.290, 0.496], [0.29, 0.718], [0.249, 0.3907],
    [-2.603, -0.243], [0.558, 2.638], [5.424, 7.072],
    [67.6, 96.32], [37.07, 55.94], [23.73, 51.3],
]

obs_all = [obs_1, obs_2, obs_3, obs_4, obs_5, obs_6, obs_7, obs_8, obs_9, obs_10, obs_11, obs_12]
sci_all = [sci_1, sci_2, sci_3, sci_4, sci_5, sci_6, sci_7, sci_8, sci_9, sci_10, sci_11, sci_12]
sci_ci_all = [sci_ci_1, sci_ci_2, sci_ci_3, sci_ci_4, sci_ci_5, sci_ci_6, sci_ci_7, sci_ci_8,
              sci_ci_9, sci_ci_10, sci_ci_11, sci_ci_12]
crowd_all = [crowd_1, crowd_2, crowd_3, crowd_4, crowd_5, crowd_6, crowd_7, crowd_8, crowd_9,
             crowd_10, crowd_11, crowd_12]
crowd_ci_all = [crowd_ci_1, crowd_ci_2, crowd_ci_3, crowd_ci_4, crowd_ci_5, crowd_ci_6,
                crowd_ci_7, crowd_ci_8, crowd_ci_9, crowd_ci_10, crowd_ci_11, crowd_ci_12]
ind_all = [ind_1, ind_2, ind_3, ind_4, ind_5, ind_6, ind_7, ind_8, ind_9, ind_10, ind_11, ind_12]

# ---------------- styling ----------------
BLACK = "#000000"
SCI_COL = "#0000FF"
CROWD_COL = "#FA8072"
SCI_FILL = "rgba(0,0,255,0.38)"
CROWD_FILL = "rgba(250,128,114,0.48)"
IND_COL = "rgba(100,145,220,0.34)"
GRID = "#ebebeb"
TICK_COL = "#4d4d4d"

# plot-area pixel boxes (target picture coordinates)
col_px = [(90, 463), (517, 890), (947, 1320)]
row_px = [(77, 343), (453, 720), (828, 1095), (1203, 1471)]

# vertical calibration of the photographed page (measured on earlier renders)
Y_SCALE, Y_SHIFT = 1.01246, -9.895


def fx(px):
    return px / W


def fy(py):
    return 1 - (Y_SCALE * py + Y_SHIFT) / H


x_ticktext = []
for m in months:
    x_ticktext.append(x_label_text[x_label_pos.index(m)] if m in x_label_pos else "")

fig = go.Figure()
layout = dict(
    width=W, height=H, margin=dict(l=0, r=0, t=0, b=0),
    paper_bgcolor="white", plot_bgcolor="white", showlegend=False,
    font=dict(family=FONT, color="#000000"),
)
annotations = []
shapes = []

for k in range(12):
    r, c = divmod(k, 3)
    n = k + 1
    xa = "x" if n == 1 else f"x{n}"
    ya = "y" if n == 1 else f"y{n}"
    x0, x1 = col_px[c]
    top, bot = row_px[r]

    ticks = y_ticks[k]
    step = ticks[1] - ticks[0]
    rng = y_ranges[k]
    minor = []
    v = ticks[0] - 3 * step + step / 2
    while v <= rng[1]:
        if v >= rng[0]:
            minor.append(round(v, 6))
        v += step
    dec = y_decimals[k]
    ticktext = [f"{t:.{dec}f}" for t in ticks]

    layout["xaxis" if n == 1 else f"xaxis{n}"] = dict(
        domain=[fx(x0), fx(x1)], anchor=ya, range=[-2.55, 53.55],
        tickmode="array", tickvals=months, ticktext=x_ticktext, tickangle=0,
        showgrid=True, gridcolor=GRID, gridwidth=1.8, zeroline=False, showline=False,
        ticks="", tickfont=dict(size=11.5, color=TICK_COL, family=FONT),
        ticklabelshift=-12, ticklabelstandoff=8, fixedrange=True,
    )
    layout["yaxis" if n == 1 else f"yaxis{n}"] = dict(
        domain=[fy(bot), fy(top)], anchor=xa, range=rng,
        tickmode="array", tickvals=ticks, ticktext=ticktext,
        showgrid=True, gridcolor=GRID, gridwidth=1.6, zeroline=False, showline=False,
        ticks="", tickfont=dict(size=18.5, color=TICK_COL, family=FONT),
        ticklabelstandoff=11, fixedrange=True,
        minor=dict(tickmode="array", tickvals=minor, showgrid=True, gridcolor=GRID,
                   gridwidth=1.2, ticks=""),
    )

    fig.add_trace(go.Scatter(
        x=months, y=obs_all[k], mode="lines+markers", xaxis=xa, yaxis=ya,
        line=dict(color=BLACK, width=1.7), marker=dict(color=BLACK, size=8.5),
        connectgaps=False, hoverinfo="skip"))
    for line in ind_all[k]:
        fig.add_trace(go.Scatter(
            x=forecast_months, y=line, mode="lines", xaxis=xa, yaxis=ya,
            line=dict(color=IND_COL, width=1.4), hoverinfo="skip"))
    for mean, ci, fill in ((crowd_all[k], crowd_ci_all[k], CROWD_FILL),
                           (sci_all[k], sci_ci_all[k], SCI_FILL)):
        hi = [m + e for m, e in zip(mean, ci)]
        lo = [m - e for m, e in zip(mean, ci)]
        fig.add_trace(go.Scatter(
            x=forecast_months + forecast_months[::-1], y=hi + lo[::-1],
            mode="lines", fill="toself", fillcolor=fill, xaxis=xa, yaxis=ya,
            line=dict(width=0, shape="spline", smoothing=0.6), hoverinfo="skip"))
    fig.add_trace(go.Scatter(
        x=forecast_months, y=crowd_all[k], mode="lines", xaxis=xa, yaxis=ya,
        line=dict(color=CROWD_COL, width=3.6, shape="spline", smoothing=0.6), hoverinfo="skip"))
    fig.add_trace(go.Scatter(
        x=forecast_months, y=sci_all[k], mode="lines", xaxis=xa, yaxis=ya,
        line=dict(color=SCI_COL, width=4.8, shape="spline", smoothing=0.6), hoverinfo="skip"))

    lines = titles[k]
    center = top - 36.5
    for j, txt in enumerate(lines):
        yy = center + (j - (len(lines) - 1) / 2) * 19.7
        annotations.append(dict(
            x=fx((x0 + x1) / 2), y=fy(yy), xref="paper", yref="paper",
            text=txt, showarrow=False, xanchor="center", yanchor="middle",
            font=dict(size=18, color="#1a1a1a", family=FONT)))

annotations.append(dict(
    x=fx(23), y=fy(772), xref="paper", yref="paper", text="Estimate (M +/- 95%CI)",
    textangle=-90, showarrow=False, xanchor="center", yanchor="middle",
    font=dict(size=22, color="#000000", family=FONT)))

# legend
legend_items = [("Scientists", SCI_COL, 565), ("Naive Crowd", CROWD_COL, 703)]
for label, colr, kx in legend_items:
    shapes.append(dict(type="rect", xref="paper", yref="paper",
                       x0=fx(kx), x1=fx(kx + 34), y0=fy(1586), y1=fy(1554),
                       fillcolor="#cccccc", line=dict(width=0), layer="above"))
    shapes.append(dict(type="line", xref="paper", yref="paper",
                       x0=fx(kx + 2), x1=fx(kx + 32), y0=fy(1571), y1=fy(1571),
                       line=dict(color=colr, width=4), layer="above"))
    annotations.append(dict(
        x=fx(kx + 42), y=fy(1571), xref="paper", yref="paper", text=label,
        showarrow=False, xanchor="left", yanchor="middle",
        font=dict(size=18, color="#000000", family=FONT)))

layout["annotations"] = annotations
layout["shapes"] = shapes
fig.update_layout(**layout)

fig.write_html(
    "out.html", config={"displayModeBar": False, "responsive": False},
    post_script=("document.documentElement.style.margin='0';"
                 "document.body.style.margin='0';document.body.style.padding='0';"
                 "document.body.style.overflow='hidden';"))
